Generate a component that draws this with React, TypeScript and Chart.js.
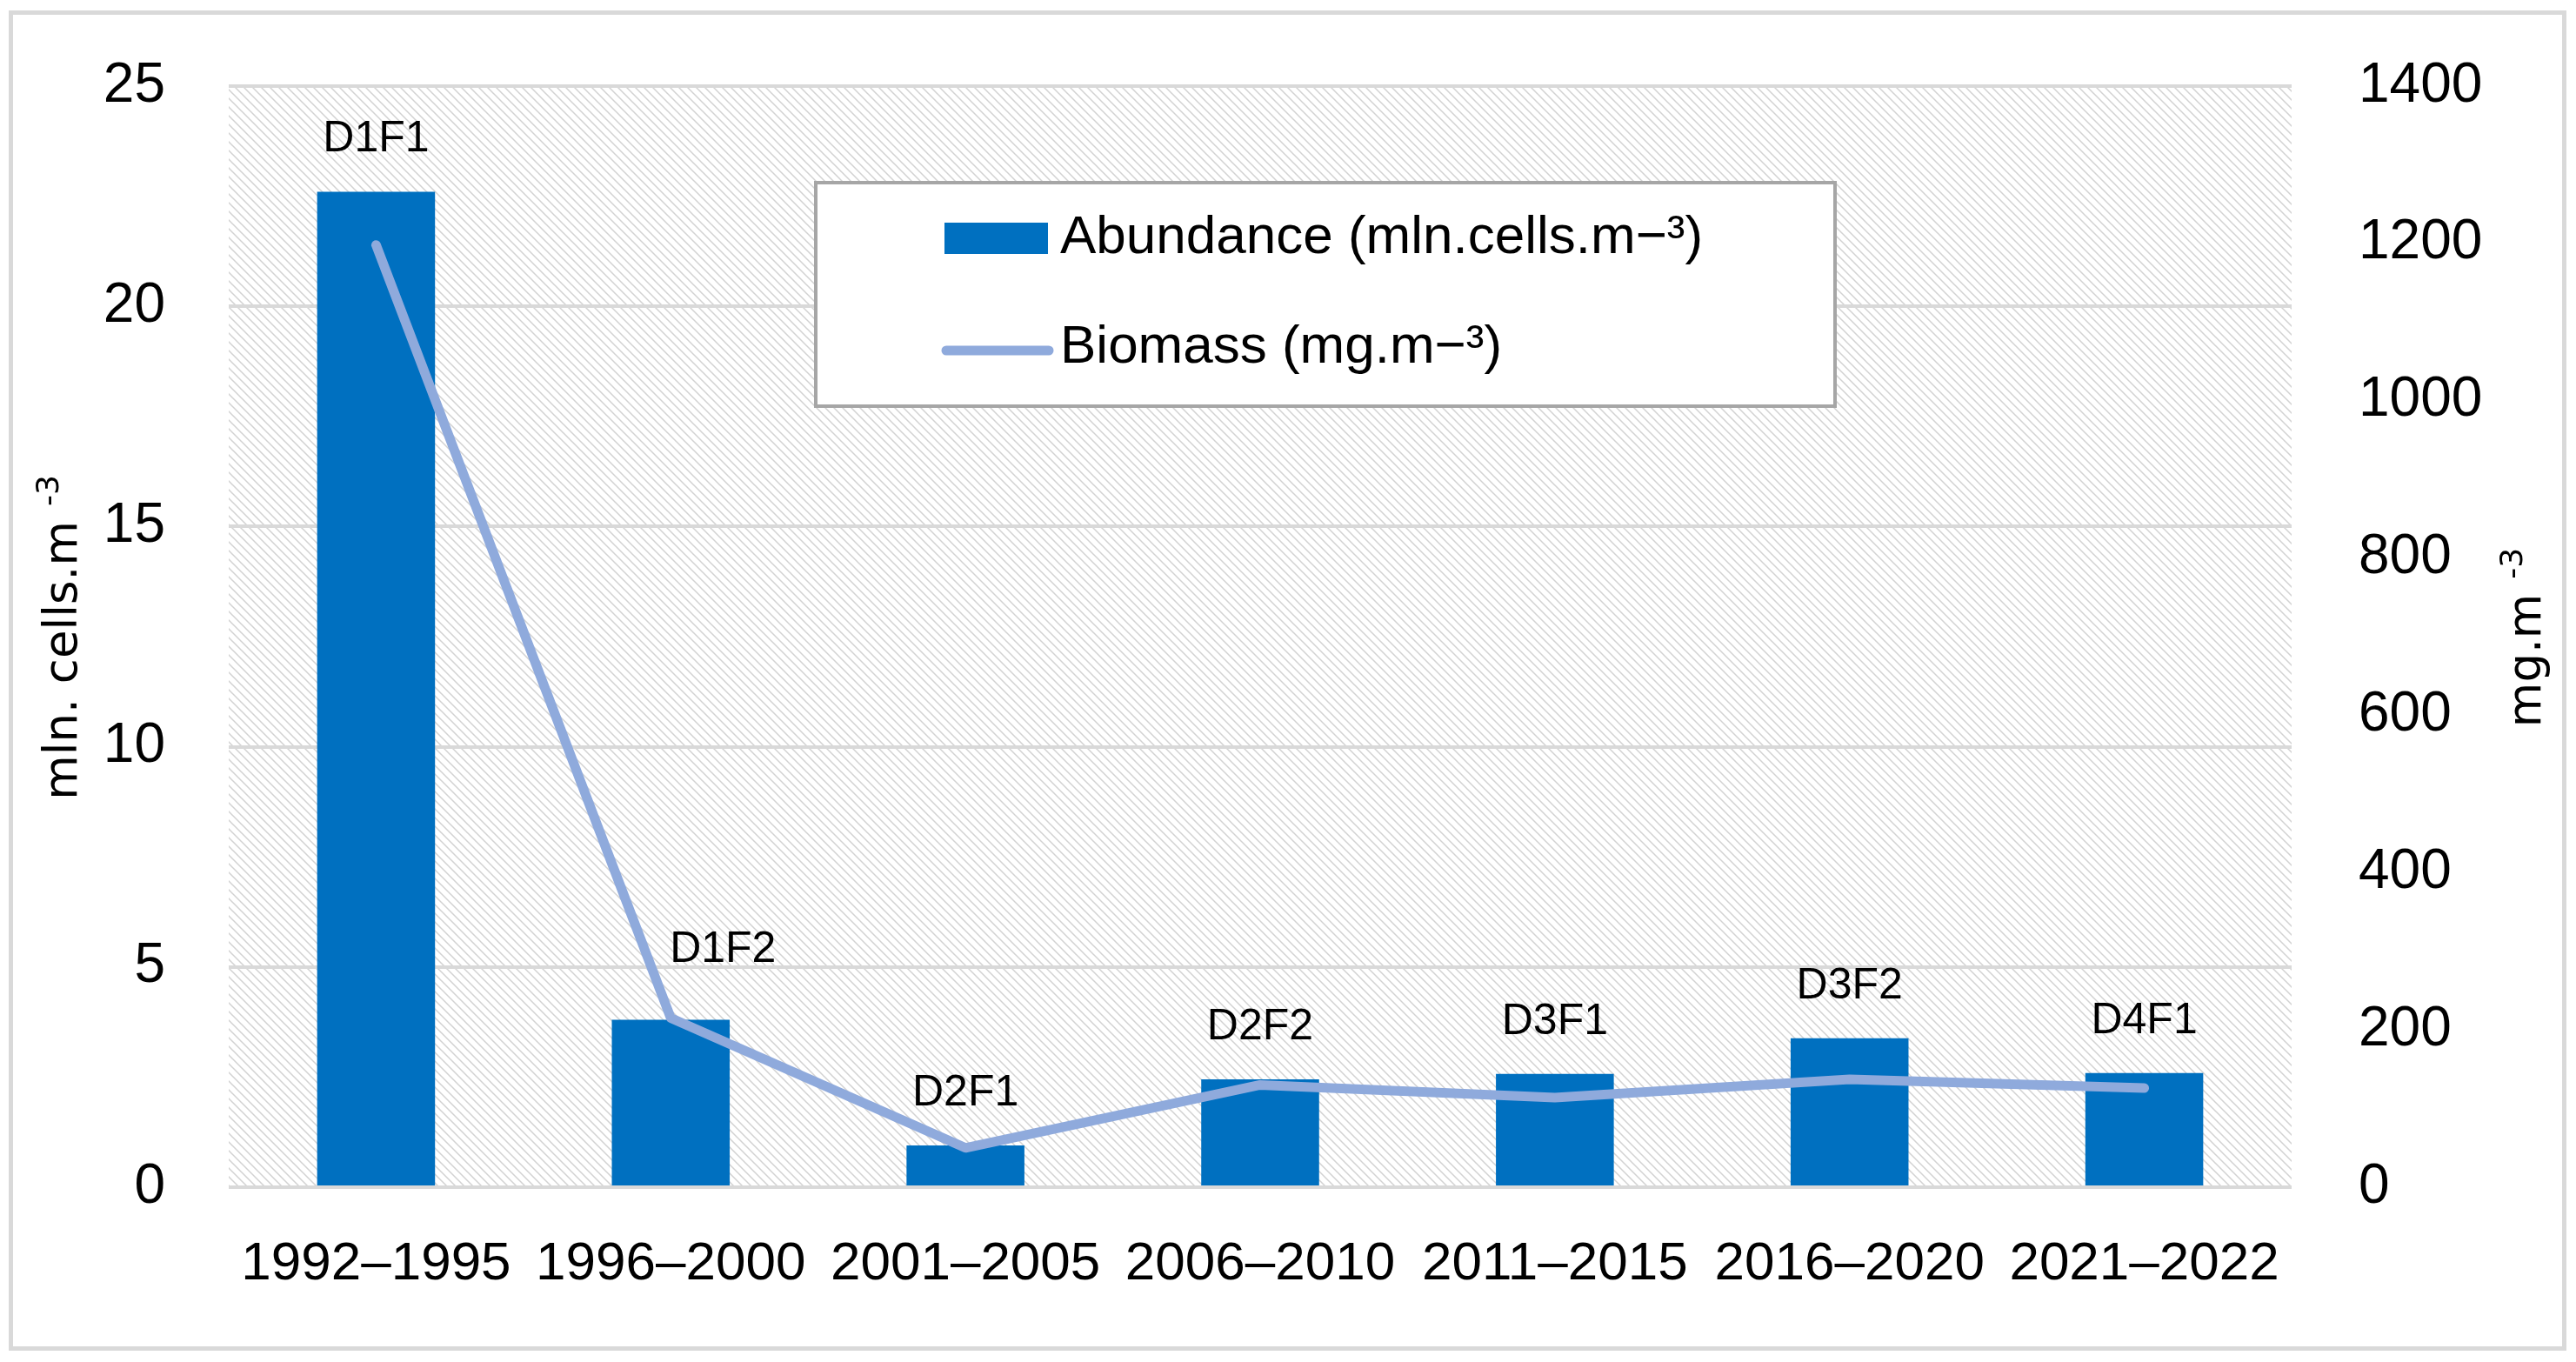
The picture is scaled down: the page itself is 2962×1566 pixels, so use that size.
import React, { useEffect, useRef } from 'react';
import { Chart, registerables } from 'chart.js';

Chart.register(...registerables);

const categories = ['1992–1995', '1996–2000', '2001–2005', '2006–2010', '2011–2015', '2016–2020', '2021–2022'];
const abundance = [22.6, 3.8, 0.95, 2.45, 2.57, 3.38, 2.59];
const biomass = [1198, 215, 50, 130, 114, 137, 126];
const groupLabels = ['D1F1', 'D1F2', 'D2F1', 'D2F2', 'D3F1', 'D3F2', 'D4F1'];
const abundanceLabel = 'Abundance (mln.cells.m−³)';
const biomassLabel = 'Biomass (mg.m−³)';
const leftAxisTitle = ['mln. cells.m ', '-3'];
const rightAxisTitle = ['mg.m ', '-3'];

const TICK_FONT = "'Liberation Sans', Arial, sans-serif";
const TITLE_FONT = "'DejaVu Sans', Verdana, sans-serif";
const BAR_COLOR = '#0070C0';
const LINE_COLOR = '#8FAADC';

function makeHatch(ctx: CanvasRenderingContext2D) {
  const s = 10;
  const c = document.createElement('canvas');
  c.width = s;
  c.height = s;
  const g = c.getContext('2d')!;
  g.fillStyle = '#ffffff';
  g.fillRect(0, 0, s, s);
  g.strokeStyle = '#d2d2d2';
  g.lineWidth = 1.5;
  g.beginPath();
  g.moveTo(-2, -2);
  g.lineTo(s + 2, s + 2);
  g.moveTo(-2, s - 2);
  g.lineTo(2, s + 2);
  g.moveTo(s - 2, -2);
  g.lineTo(s + 2, 2);
  g.stroke();
  return ctx.createPattern(c, 'repeat');
}

const backgroundPlugin = {
  id: 'bgHatch',
  beforeDraw(chart: any) {
    const { ctx, chartArea, width, height } = chart;
    ctx.save();
    ctx.fillStyle = '#ffffff';
    ctx.fillRect(0, 0, width, height);
    ctx.strokeStyle = '#d9d9d9';
    ctx.lineWidth = 5;
    ctx.strokeRect(4.5, 6.5, width - 10, height - 14);
    const p = makeHatch(ctx);
    if (p) {
      ctx.fillStyle = p;
      ctx.fillRect(chartArea.left, chartArea.top, chartArea.right - chartArea.left, chartArea.bottom - chartArea.top);
    }
    ctx.restore();
  },
};

function drawRotatedTitle(ctx: CanvasRenderingContext2D, parts: string[], x: number, cy: number) {
  ctx.save();
  ctx.translate(x, cy);
  ctx.rotate(-Math.PI / 2);
  ctx.fillStyle = '#000000';
  ctx.textBaseline = 'alphabetic';
  ctx.textAlign = 'left';
  ctx.font = `53px ${TITLE_FONT}`;
  const w1 = ctx.measureText(parts[0]).width;
  ctx.font = `36px ${TITLE_FONT}`;
  const w2 = ctx.measureText(parts[1]).width;
  const start = -(w1 + w2) / 2;
  ctx.font = `53px ${TITLE_FONT}`;
  ctx.fillText(parts[0], start, 0);
  ctx.font = `36px ${TITLE_FONT}`;
  ctx.fillText(parts[1], start + w1, -21);
  ctx.restore();
}

const overlayPlugin = {
  id: 'overlay',
  afterDatasetsDraw(chart: any, _args: any, opts: any) {
    const { ctx, chartArea } = chart;
    const barIndex = chart.data.datasets.findIndex((d: any) => d.type === 'bar');
    const meta = chart.getDatasetMeta(barIndex);
    ctx.save();
    ctx.fillStyle = '#000000';
    ctx.font = `50px ${TICK_FONT}`;
    ctx.textAlign = 'center';
    ctx.textBaseline = 'middle';
    meta.data.forEach((el: any, i: number) => {
      const nudge = (opts.nudges && opts.nudges[i]) || { dx: 0, dy: 0 };
      ctx.fillText(groupLabels[i], el.x + nudge.dx, el.y - 60 + nudge.dy);
    });
    ctx.restore();

    const cy = (chartArea.top + chartArea.bottom) / 2 + 1;
    drawRotatedTitle(ctx, leftAxisTitle, 80, cy);
    drawRotatedTitle(ctx, rightAxisTitle, 2913, cy);

    const ds = chart.data.datasets;
    const barDs = ds.find((d: any) => d.type === 'bar');
    const lineDs = ds.find((d: any) => d.type === 'line');
    ctx.save();
    ctx.fillStyle = '#ffffff';
    ctx.fillRect(930, 202, 1172, 257);
    ctx.strokeStyle = '#a6a6a6';
    ctx.lineWidth = 4;
    ctx.strokeRect(930, 202, 1172, 257);
    ctx.fillStyle = barDs.backgroundColor;
    ctx.fillRect(1078, 248, 119, 36);
    ctx.strokeStyle = lineDs.borderColor;
    ctx.lineWidth = 11;
    ctx.lineCap = 'round';
    ctx.beginPath();
    ctx.moveTo(1080, 395);
    ctx.lineTo(1198, 395);
    ctx.stroke();
    ctx.fillStyle = '#000000';
    ctx.font = `62px ${TICK_FONT}`;
    ctx.textAlign = 'left';
    ctx.textBaseline = 'middle';
    ctx.fillText(barDs.label, 1211, 266);
    ctx.fillText(lineDs.label, 1211, 392);
    ctx.restore();
  },
};

export default function App() {
  const ref = useRef<HTMLCanvasElement | null>(null);

  useEffect(() => {
    if (!ref.current) return;
    const chart = new Chart(ref.current, {
      type: 'bar',
      data: {
        labels: categories,
        datasets: [
          {
            type: 'line',
            label: biomassLabel,
            data: biomass,
            yAxisID: 'y1',
            borderColor: LINE_COLOR,
            backgroundColor: LINE_COLOR,
            borderWidth: 11,
            pointRadius: 0,
            tension: 0,
            borderCapStyle: 'round',
            borderJoinStyle: 'round',
            order: 1,
          } as any,
          {
            type: 'bar',
            label: abundanceLabel,
            data: abundance,
            yAxisID: 'y',
            backgroundColor: BAR_COLOR,
            borderWidth: 0,
            barPercentage: 0.4,
            categoryPercentage: 1.0,
            order: 2,
          } as any,
        ],
      },
      options: {
        animation: false,
        responsive: false,
        devicePixelRatio: 1,
        layout: { padding: { top: 91, left: 0, right: 0, bottom: 0 } },
        plugins: {
          legend: { display: false },
          tooltip: { enabled: false },
          overlay: { nudges: { 1: { dx: 60, dy: -20 } } },
        } as any,
        scales: {
          x: {
            type: 'category',
            grid: { display: false, drawTicks: false },
            border: { display: false },
            ticks: {
              color: '#000000',
              font: { family: TICK_FONT, size: 62 },
              padding: 52,
              maxRotation: 0,
              autoSkip: false,
            },
            afterFit: (s: any) => {
              s.height = 193;
            },
          },
          y: {
            type: 'linear',
            position: 'left',
            min: 0,
            max: 25,
            grid: {
              color: '#d9d9d9',
              lineWidth: 4,
              drawTicks: true,
              tickLength: 66,
              tickColor: 'rgba(0,0,0,0)',
            },
            border: { display: false },
            ticks: {
              stepSize: 5,
              color: '#000000',
              font: { family: TICK_FONT, size: 64 },
              padding: 7,
            },
            afterFit: (s: any) => {
              s.width = 255;
            },
          },
          y1: {
            type: 'linear',
            position: 'right',
            min: 0,
            max: 1400,
            grid: { display: false, drawTicks: true, tickLength: 70 },
            border: { display: false },
            ticks: {
              stepSize: 200,
              color: '#000000',
              font: { family: TICK_FONT, size: 64 },
              padding: 7,
              callback: (v: any) => String(v),
            },
            afterFit: (s: any) => {
              s.width = 319;
            },
          },
        },
      } as any,
      plugins: [backgroundPlugin, overlayPlugin],
    });
    return () => chart.destroy();
  }, []);

  return (
    <div style={{ width: 2946, height: 1550 }}>
      <canvas ref={ref} width={2946} height={1550} style={{ display: 'block', width: 2946, height: 1550 }} />
    </div>
  );
}
